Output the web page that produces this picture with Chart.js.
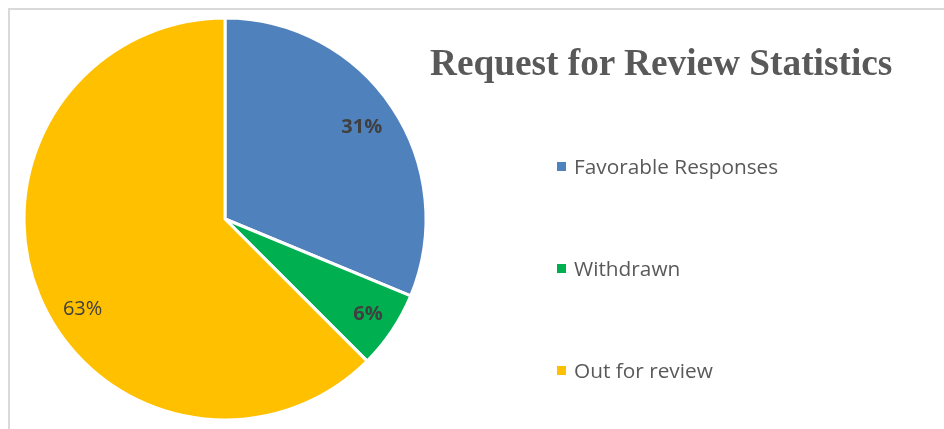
<!DOCTYPE html>
<html>
<head>
<meta charset="utf-8">
<script src="https://cdn.jsdelivr.net/npm/chart.js@4.4.1/dist/chart.umd.min.js"></script>
<style>
  html, body { margin: 0; padding: 0; background: #fff; }
  #wrap { position: relative; width: 944px; height: 429px; overflow: hidden; }
  #frame { position: absolute; left: 8px; top: 8px; width: 960px; height: 440px; border-top: 2px solid #d9d9d9; border-left: 2px solid #d9d9d9; }
  #pie { position: absolute; left: 0; top: 0; }
  #title { position: absolute; left: 430px; top: 44px; font: bold 37.3px/37px "Liberation Serif", "Times New Roman", serif; color: #595959; white-space: nowrap; }
  .leg { position: absolute; left: 557px; height: 21px; font: 20.8px/21px "Open Sans", sans-serif; color: #595959; white-space: nowrap; }
  .leg i { position: absolute; left: 0; top: 6px; width: 9px; height: 9px; }
  .leg span { position: absolute; left: 17px; top: 0; }
</style>
</head>
<body>
<div id="wrap">
  <div id="frame"></div>
  <canvas id="pie" width="944" height="429"></canvas>
  <div id="title"></div>
  <div id="legend"></div>
</div>
<script>
const chartTitle = 'Request for Review Statistics';
const categories = ['Favorable Responses', 'Withdrawn', 'Out for review'];
const counts = [5, 1, 10];
const sliceColors = ['#4f81bd', '#00b050', '#ffc000'];

// label placement (fraction of radius, angle nudge in degrees), weights
const labelRadius = [0.818, 0.856, 0.84];
const labelNudge = [0, 0, -10];
const labelWeight = ['bold', 'bold', 'normal'];

const total = counts.reduce((a, b) => a + b, 0);
const percents = counts.map(v => Math.round(v / total * 100) + '%');

document.getElementById('title').textContent = chartTitle;

const legendTops = [156, 258, 360];
const legend = document.getElementById('legend');
categories.forEach((name, i) => {
  const row = document.createElement('div');
  row.className = 'leg';
  row.style.top = legendTops[i] + 'px';
  const box = document.createElement('i');
  box.style.background = sliceColors[i];
  const txt = document.createElement('span');
  txt.textContent = name;
  row.appendChild(box);
  row.appendChild(txt);
  legend.appendChild(row);
});

const sliceLabels = {
  id: 'sliceLabels',
  afterDatasetsDraw(chart) {
    const ctx = chart.ctx;
    const arcs = chart.getDatasetMeta(0).data;
    ctx.save();
    ctx.fillStyle = '#404040';
    ctx.textAlign = 'center';
    ctx.textBaseline = 'middle';
    arcs.forEach((arc, i) => {
      const p = arc.getProps(['x', 'y', 'startAngle', 'endAngle', 'outerRadius'], true);
      const mid = (p.startAngle + p.endAngle) / 2 + labelNudge[i] * Math.PI / 180;
      const r = p.outerRadius * labelRadius[i];
      ctx.font = labelWeight[i] + ' 20px "Open Sans", sans-serif';
      ctx.fillText(percents[i], p.x + Math.cos(mid) * r, p.y + Math.sin(mid) * r);
    });
    ctx.restore();
  }
};

new Chart(document.getElementById('pie'), {
  type: 'pie',
  data: {
    labels: categories,
    datasets: [{
      data: counts,
      backgroundColor: sliceColors,
      borderColor: '#ffffff',
      borderWidth: 3
    }]
  },
  options: {
    responsive: false,
    animation: false,
    radius: 201,
    layout: { padding: { left: 0, right: 494, top: 10, bottom: 1 } },
    plugins: {
      legend: { display: false },
      title: { display: false },
      tooltip: { enabled: false }
    }
  },
  plugins: [sliceLabels]
});
</script>
</body>
</html>
